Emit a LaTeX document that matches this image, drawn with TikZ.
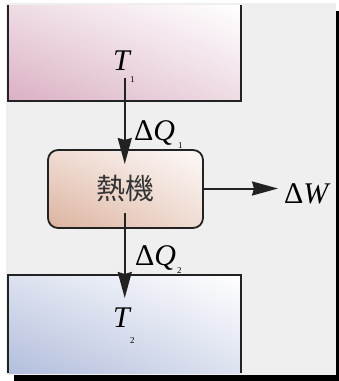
\documentclass[tikz,border=0pt]{standalone}
\usepackage{fontspec}
\setmainfont{Liberation Serif}
\newfontfamily\cjk{Noto Sans CJK TC}
\usepackage{tikz}
\usepackage{xcolor}
\usetikzlibrary{arrows.meta,positioning,shadings,calc}

\definecolor{bggray}{HTML}{EFEFEF}
\definecolor{linegray}{HTML}{222222}
\definecolor{hotpink}{RGB}{218,176,196}
\definecolor{coldblue}{RGB}{178,190,220}
\definecolor{enginetan}{RGB}{220,178,158}

\begin{document}
\begin{tikzpicture}[x=1pt, y=-1pt,
    big/.style={font=\fontsize{30}{32}\selectfont, inner sep=0pt, anchor=base west},
    sub/.style={font=\fontsize{9}{10}\selectfont, inner sep=0pt, anchor=base west},
    flow/.style={draw=linegray, line width=2pt, -{Stealth[length=26pt, width=14pt, inset=2pt]}},
    reservoir/.style={minimum width=232.5pt, minimum height=96pt, inner sep=0pt},
    ]
        \useasboundingbox (0,0) rectangle (339,381);
        % shadow and grey sheet
        \fill[black] (14,11) rectangle (339,381);
        \fill[bggray] (6,3) rectangle (336,375);
        % hot reservoir, open at the top
        \node[reservoir, lower left=hotpink, upper right=white,
              upper left=hotpink!45!white, lower right=hotpink!45!white] (hot) at (124.75,53) {};
        \draw[linegray, line width=1.8pt] (hot.north west) -- (hot.south west) -- (hot.south east) -- (hot.north east);
        % cold reservoir, open at the bottom
        \node[reservoir, minimum height=98pt, lower left=coldblue, upper right=white,
              upper left=coldblue!45!white, lower right=coldblue!45!white] (cold) at (124.75,324) {};
        \draw[linegray, line width=1.8pt] (cold.south west) -- (cold.north west) -- (cold.north east) -- (cold.south east);
        % the engine
        \node[draw=linegray, line width=1.8pt, rounded corners=10pt,
              minimum width=155pt, minimum height=78pt, inner sep=0pt,
              lower left=enginetan, upper right=white!92!enginetan,
              upper left=enginetan!45!white, lower right=enginetan!45!white,
              font=\cjk\fontsize{29}{30}\selectfont, text=black!80] (engine) at (125.5,189) {熱機};
        % temperatures
        \node[big] (t1) at (113,70) {\textit{T}};
        \node[sub] (t1i) at (130,82) {1};
        \node[big] (t2) at (113,327) {\textit{T}};
        \node[sub] (t2i) at (130,343) {2};
        % heat flows
        \coordinate (q1from) at (124.75,78);
        \coordinate (q1to) at (124.75,164);
        \coordinate (q2from) at (124.75,213);
        \coordinate (q2to) at (124.75,298);
        \draw[flow] (q1from) -- (q1to);
        \draw[flow] (q2from) -- (q2to);
        \node[big] (q1) at (134,140) {Δ\textit{Q}};
        \node[sub] (q1i) at (178,148) {1};
        \node[big] (q2) at (135,265) {Δ\textit{Q}};
        \node[sub] (q2i) at (177,273) {2};
        % work out
        \coordinate (wtip) at (278,188.5);
        \draw[flow] (engine.east |- wtip) -- (wtip);
        \node[big] (w) at (284,203) {Δ\textit{W}};
    \end{tikzpicture}
\end{document}
